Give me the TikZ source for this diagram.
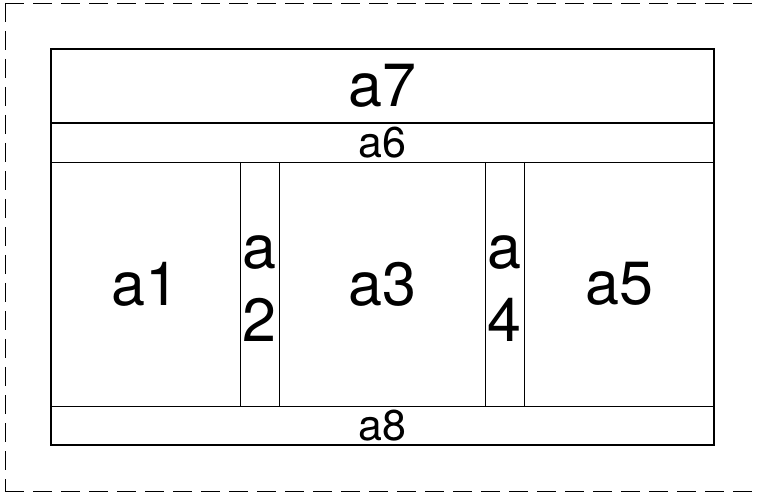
\documentclass[tikz,border=0pt]{standalone}
\usepackage{fontspec}
\setmainfont{TeX Gyre Heros}
\usepackage{tikz}
\newcommand{\bigsize}{\fontsize{61}{73}\selectfont}
\newcommand{\smallsize}{\fontsize{43}{50}\selectfont}
\begin{document}
\begin{tikzpicture}[x=1pt,y=-1pt,
  frame/.style={line width=1.4pt},
  part/.style={line width=0.8pt},
  outline/.style={line width=0.8pt,dash pattern=on 19pt off 9pt},
  big/.style={font=\bigsize,inner sep=0pt,align=center},
  small/.style={font=\smallsize,inner sep=0pt}]

 \useasboundingbox (0,0) rectangle (758,494);
   \draw[outline] (5,3) -- (762,3);
   \draw[outline] (5,3) -- (5,491);
   \draw[outline] (5,491) -- (762,491);
   \draw[part] (51,162) -- (714,162);
   \draw[part] (51,406) -- (714,406);
   \draw[part] (240,162) -- (240,406);
   \draw[part] (279,162) -- (279,406);
   \draw[part] (485,162) -- (485,406);
   \draw[part] (524,162) -- (524,406);
   \draw[frame] (51,123) -- (714,123);
   \draw[frame] (51,49) rectangle (714,445);
   \node[big] (a7) at (382.5,86) {a7};
   \node[small] (a6) at (382.5,142.5) {a6};
   \node[big] (a1) at (145.5,284) {a1};
   \node[big] (a2) at (259.5,288.5) {a\\2};
   \node[big] (a3) at (382,284) {a3};
   \node[big] (a4) at (504.5,288.5) {a\\4};
   \node[big] (a5) at (619,284) {a5};
   \node[small] (a8) at (382.5,425.5) {a8};

\end{tikzpicture}
\end{document}
